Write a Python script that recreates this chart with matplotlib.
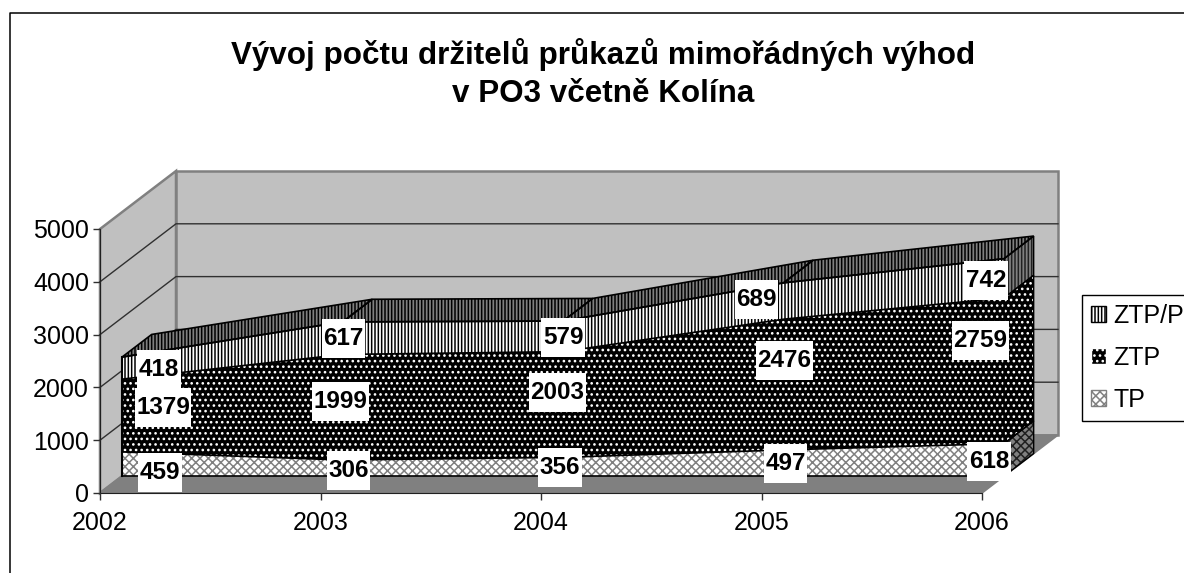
import matplotlib
matplotlib.use('Agg')
import matplotlib.pyplot as plt
from matplotlib.patches import Polygon, Patch
from matplotlib.path import Path

plt.rcParams['font.family'] = ['Liberation Sans', 'DejaVu Sans']
plt.rcParams['hatch.linewidth'] = 1.1

years = ['2002', '2003', '2004', '2005', '2006']
tp = [459, 306, 356, 497, 618]
ztp = [1379, 1999, 2003, 2476, 2759]
ztp_p = [418, 617, 579, 689, 742]
y_ticks = [0, 1000, 2000, 3000, 4000, 5000]

W, H = 1184, 573
fig = plt.figure(figsize=(W / 100, H / 100), dpi=100)
fig.patch.set_facecolor('white')
ax = fig.add_axes([100 / W, 1 - 493 / H, 882 / W, 264 / H])
ax.patch.set_visible(False)
ax.set_xlim(0, 4)
ax.set_ylim(0, 5000)

# depth of the fake 3d box, in data units
dx = 76 / 882 * 4
dy = 58 / 264 * 5000
front = 0.29
back = 0.68

H_TP = 'xxxx'
H_ZTP = '...'
H_ZTPP = '|||||'
C_TP = '#808080'


def shift(x, y, d):
    return (x + d * dx, y + d * dy)


def poly(points, fc, ec='black', hatch=None, lw=1.2, z=2):
    p = Polygon(points, closed=True, facecolor=fc, edgecolor=ec, hatch=hatch,
                linewidth=lw, clip_on=False, zorder=z)
    ax.add_patch(p)


def label_box(x0, y0, w, h, mutation_size):
    # white plate taller than the digits, like the excel labels
    px, py = 1.5, 8
    x0, x1 = x0 - px, x0 + w + px
    y0, y1 = y0 - py, y0 + h + py
    return Path([(x0, y0), (x1, y0), (x1, y1), (x0, y1), (x0, y0)], closed=True)


# walls and floor
poly([shift(0, 0, 0), shift(0, 0, 1), shift(0, 5000, 1), shift(0, 5000, 0)], '#c0c0c0', '#808080', lw=1.8, z=0)
poly([shift(0, 0, 1), shift(4, 0, 1), shift(4, 5000, 1), shift(0, 5000, 1)], '#c0c0c0', '#808080', lw=1.8, z=0)
poly([shift(0, 0, 0), shift(4, 0, 0), shift(4, 0, 1), shift(0, 0, 1)], '#808080', '#808080', z=0)
for v in y_ticks[1:-1]:
    ax.plot(*zip(shift(0, v, 0), shift(0, v, 1), shift(4, v, 1)), color='#303030', lw=1, clip_on=False, zorder=1)

xs = list(range(len(years)))
lower = [0] * 5
layers = [(tp, 'white', C_TP, H_TP),
          (ztp, 'black', 'white', H_ZTP),
          (ztp_p, 'white', 'black', H_ZTPP)]

for values, fc, hc, hatch in layers:
    upper = [a + b for a, b in zip(lower, values)]
    # front face
    pts = [shift(x, v, front) for x, v in zip(xs, upper)] + [shift(x, v, front) for x, v in zip(xs[::-1], lower[::-1])]
    poly(pts, fc, hc, hatch, lw=0, z=3)
    ax.plot(*zip(*[shift(x, v, front) for x, v in zip(xs, upper)]), color='black', lw=1.2, clip_on=False, zorder=4)
    # right end
    pts = [shift(4, lower[4], front), shift(4, upper[4], front), shift(4, upper[4], back), shift(4, lower[4], back)]
    side_fc = '#808080' if fc == 'white' else 'black'
    poly(pts, side_fc, hc if fc == 'black' else '#202020', hatch, lw=0, z=3)
    poly(pts, 'none', 'black', lw=1.0, z=4)
    lower = upper

# top surface of the stack
for i in xs[:-1]:
    pts = [shift(i, lower[i], front), shift(i + 1, lower[i + 1], front),
           shift(i + 1, lower[i + 1], back), shift(i, lower[i], back)]
    poly(pts, '#808080', 'black', H_ZTPP, lw=0, z=3)
    poly(pts, 'none', 'black', lw=1.2, z=4)
ax.plot(*zip(shift(0, 0, front), shift(0, lower[0], front)), color='black', lw=1.5, clip_on=False, zorder=4)
ax.plot(*zip(shift(0, 0, front), shift(4, 0, front)), color='black', lw=1.2, clip_on=False, zorder=4)

# value labels, nudged in pixels the way they sit in the original
tp_off = [(38, -8), (6, -2), (-3, -1), (2, 0), (-15, -2)]
ztp_off = [(41, 8), (-2, 6), (-6, 12), (1, 24), (-24, 30)]
ztp_p_off = [(37, -1), (1, 0), (0, -1), (-27, 2), (-18, -2)]
bottoms = [0] * 5
for values, offs in [(tp, tp_off), (ztp, ztp_off), (ztp_p, ztp_p_off)]:
    for i, v in enumerate(values):
        pos = shift(i, bottoms[i] + v / 2, front)
        ax.annotate(str(v), pos, xytext=offs[i], textcoords='offset pixels', ha='center', va='center',
                    fontsize=17.5, fontweight='bold', annotation_clip=False, zorder=6,
                    bbox=dict(boxstyle=label_box, facecolor='white', edgecolor='none'))
        bottoms[i] += v

ax.set_xticks(xs)
ax.set_xticklabels(years)
ax.set_yticks(y_ticks)
ax.tick_params(labelsize=18, length=5, width=1, color='#303030')
ax.tick_params(axis='x', pad=8)
ax.tick_params(axis='y', pad=3)
for s in ['top', 'right']:
    ax.spines[s].set_visible(False)
for s in ['left', 'bottom']:
    ax.spines[s].set_color('#202020')
    ax.spines[s].set_zorder(1)

handles = [Patch(facecolor='white', edgecolor='black', hatch=H_ZTPP, label='ZTP/P'),
           Patch(facecolor='black', edgecolor='white', hatch=H_ZTP, label='ZTP'),
           Patch(facecolor='white', edgecolor=C_TP, hatch=H_TP, label='TP')]
leg = fig.legend(handles=handles, loc='upper left', bbox_to_anchor=(1082 / W, 1 - 295 / H), borderaxespad=0,
                 fontsize=18, frameon=True, fancybox=False, edgecolor='black', framealpha=1,
                 handlelength=0.6, handleheight=0.6, handletextpad=0.3, labelspacing=0.72, borderpad=0.35)
leg.get_frame().set_linewidth(1)

fig.text(603 / W, 1 - 55 / H, 'Vývoj počtu držitelů průkazů mimořádných výhod', ha='center', va='center',
         fontsize=22.6, fontweight='bold')
fig.text(603 / W, 1 - 94 / H, 'v PO3 včetně Kolína', ha='center', va='center', fontsize=22.6, fontweight='bold')

# outer chart frame
fig.add_artist(plt.Line2D([9.5 / W, 9.5 / W, 1], [0, 1 - 12.5 / H, 1 - 12.5 / H], color='black', lw=1.1))

fig.savefig('out.png', dpi=100)
